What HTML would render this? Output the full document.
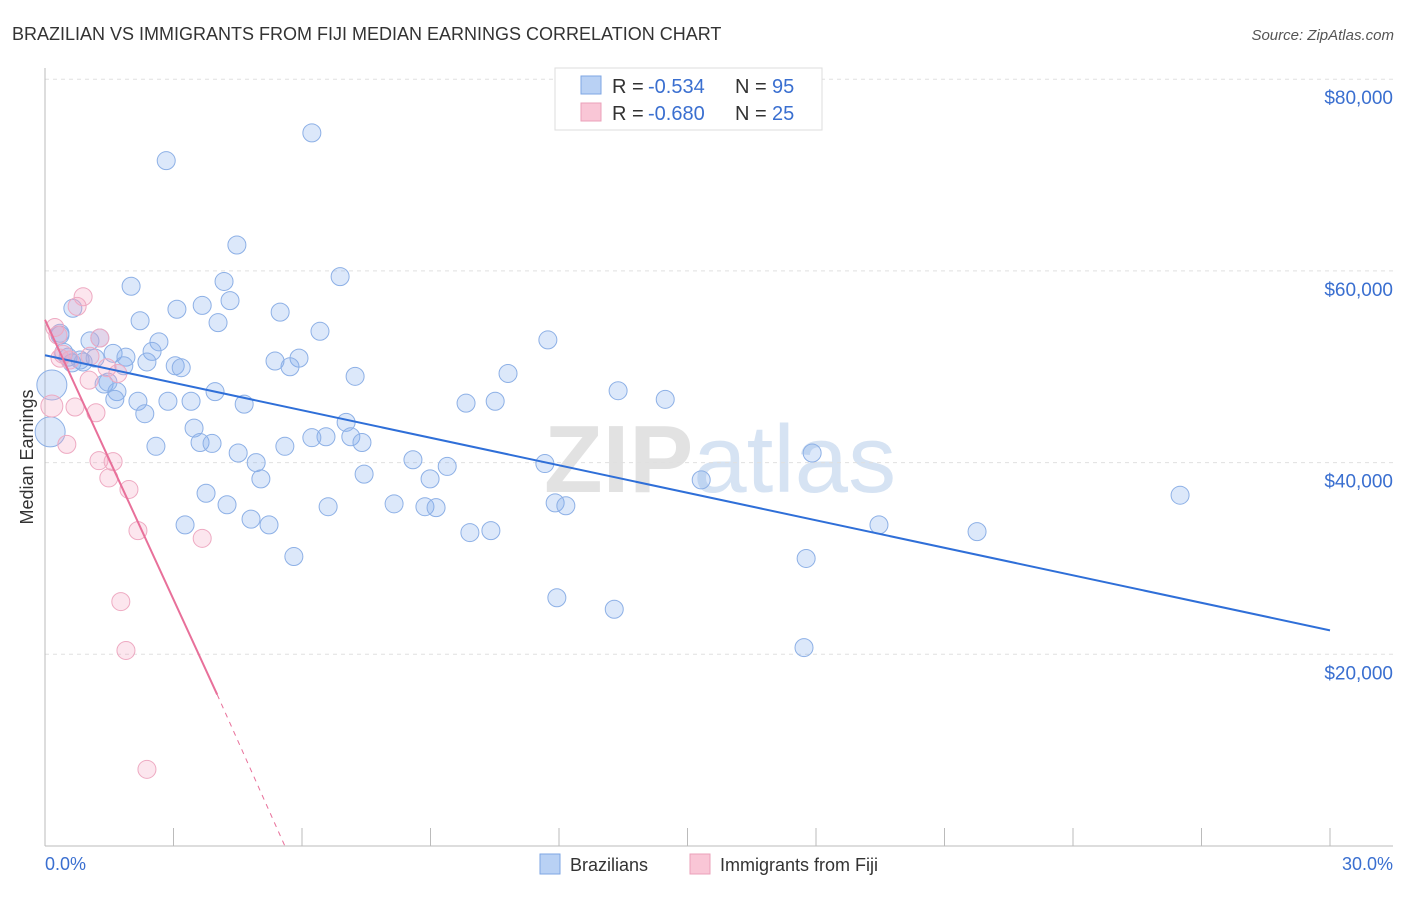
<!DOCTYPE html>
<html><head><meta charset="utf-8"><style>
body{margin:0;background:#fff;font-family:"Liberation Sans",sans-serif;}
svg text{font-family:"Liberation Sans",sans-serif;}
</style></head><body>
<svg id="chart" width="1406" height="892" xmlns="http://www.w3.org/2000/svg">
<text x="12" y="40" font-size="18" fill="#333">BRAZILIAN VS IMMIGRANTS FROM FIJI MEDIAN EARNINGS CORRELATION CHART</text>
<text x="1394" y="40" font-size="15" fill="#555" text-anchor="end" font-style="italic">Source: ZipAtlas.com</text>
<text x="720" y="492" font-size="96" fill="#e6e6ea" text-anchor="middle" font-family="Liberation Serif"><tspan font-weight="bold" fill="#e2e2e2">ZIP</tspan><tspan fill="#d6e3f3" font-family="Liberation Sans">atlas</tspan></text>
<text transform="translate(33,457) rotate(-90)" font-size="18" fill="#333" text-anchor="middle">Median Earnings</text>
<g id="grid"></g><g id="pts"></g><g id="lines"></g>
<g>
<rect x="555" y="68" width="267" height="62" fill="#fff" stroke="#ddd"/>
<rect x="581" y="76" width="20" height="18" fill="#b9d1f4" stroke="#7ea6e3"/>
<rect x="581" y="103" width="20" height="18" fill="#f9c6d6" stroke="#eba0ba"/>
<text x="612" y="93" font-size="20" fill="#333">R = </text><text x="648" y="93" font-size="20" fill="#3a6fd0">-0.534</text>
<text x="735" y="93" font-size="20" fill="#333">N = </text><text x="772" y="93" font-size="20" fill="#3a6fd0">95</text>
<text x="612" y="120" font-size="20" fill="#333">R = </text><text x="648" y="120" font-size="20" fill="#3a6fd0">-0.680</text>
<text x="735" y="120" font-size="20" fill="#333">N = </text><text x="772" y="120" font-size="20" fill="#3a6fd0">25</text>
</g>
<g>
<rect x="540" y="854" width="20" height="20" fill="#b9d1f4" stroke="#7ea6e3"/>
<text x="570" y="871" font-size="18" fill="#333">Brazilians</text>
<rect x="690" y="854" width="20" height="20" fill="#f9c6d6" stroke="#eba0ba"/>
<text x="720" y="871" font-size="18" fill="#333">Immigrants from Fiji</text>
</g>
<text x="45" y="870" font-size="18" fill="#3a6fd0">0.0%</text>
<text x="1393" y="870" font-size="18" fill="#3a6fd0" text-anchor="end">30.0%</text>
</svg>
<script>
const yTicks=[20000,40000,60000,80000];
const yTickLabels=["$20,000","$40,000","$60,000","$80,000"];
const xTicks=[0,3,6,9,12,15,18,21,24,27,30];
const blueX=[6.23,2.83,4.48,6.89,4.18,2.01,4.32,3.08,3.67,0.65,5.49,2.22,4.04,6.42,11.74,0.35,1.28,2.66,1.05,2.50,1.59,0.54,1.89,5.37,5.93,0.82,2.38,3.04,5.72,3.18,1.84,10.81,7.24,1.38,1.68,3.97,13.38,14.48,1.63,2.17,2.87,3.41,9.83,10.51,4.65,2.33,7.03,3.48,6.56,7.14,6.23,7.40,3.62,3.90,2.59,5.60,4.51,8.59,4.93,9.39,11.67,17.91,7.45,5.04,8.99,15.32,26.50,3.76,4.25,8.15,6.61,11.91,12.16,8.87,9.13,4.81,5.23,3.27,19.47,21.76,9.92,10.41,5.81,17.77,11.95,13.29,17.72,0.16,0.12,0.35,0.89,1.17,0.63,0.44,1.47];
const blueY=[74400,71500,62700,59400,58900,58400,56900,56000,56400,56100,55700,54800,54600,53700,52800,53300,53000,52600,52700,51600,51400,51000,51000,50600,50900,50700,50500,50100,50000,49900,50100,49300,49000,48200,47400,47400,47500,46600,46600,46400,46400,46400,46200,46400,46100,45100,44200,43600,42700,42700,42600,42100,42100,42000,41700,41700,41000,40300,40000,39600,39900,41000,38800,38300,38300,38200,36600,36800,35600,35700,35400,35800,35500,35400,35300,34100,33500,33500,33500,32800,32700,32900,30200,30000,25900,24700,20700,48100,43200,53500,50500,50900,50400,51500,48400];
const pinkX=[0.89,0.75,0.23,1.28,0.30,0.42,0.58,1.05,1.45,1.70,1.03,0.16,0.70,1.19,0.51,1.26,1.59,1.49,1.96,2.17,3.67,1.77,1.89,2.38,0.35];
const pinkY=[57300,56300,54100,53000,53300,51300,50700,51100,49900,49300,48600,45900,45800,45200,41900,40200,40100,38400,37200,32900,32100,25500,20400,8000,50900];
const blueTrend=[[0,51200],[30,22500]];
const pinkTrend=[[0,54900],[4.02,15800]];
const pinkTrendDash=[[4.02,15800],[5.6,0]];
const X=v=>45+v/30*1285, Y=v=>846-v/20000*191.7;
const NS="http://www.w3.org/2000/svg";
function mk(tag,attrs,parent){const e=document.createElementNS(NS,tag);for(const k in attrs)e.setAttribute(k,attrs[k]);document.getElementById(parent).appendChild(e);return e;}
yTicks.forEach((t,i)=>{
 const g=mk('line',{x1:45,x2:1393,y1:Y(t),y2:Y(t),stroke:'#e0e0e0','stroke-dasharray':'4,4'},'grid');
 
 
 const tx=mk('text',{x:1393,y:Y(t)+25,'font-size':19,fill:'#3a6fd0','text-anchor':'end'},'grid');
 tx.textContent=yTickLabels[i];
 
 
});
const ax=mk('line',{x1:45,x2:1393,y1:846,y2:846,stroke:'#bbb'},'grid');


const ay=mk('line',{x1:45,x2:45,y1:68,y2:846,stroke:'#bbb'},'grid');


xTicks.forEach(t=>{
 const l=mk('line',{x1:X(t),x2:X(t),y1:828,y2:846,stroke:'#bbb'},'grid');
 
 
});
blueX.forEach((x,i)=>{
 const c=mk('circle',{cx:X(x),cy:Y(blueY[i]),r:(i===87||i===88)?15:9,fill:'rgba(130,172,238,0.28)',stroke:'#8db0e6','stroke-width':1},'pts');
 
 
});
pinkX.forEach((x,i)=>{
 const c=mk('circle',{cx:X(x),cy:Y(pinkY[i]),r:i===11?11:9,fill:'rgba(245,165,195,0.28)',stroke:'#eeaac2','stroke-width':1},'pts');
 
 
});
const bl=mk('line',{x1:X(blueTrend[0][0]),y1:Y(blueTrend[0][1]),x2:X(blueTrend[1][0]),y2:Y(blueTrend[1][1]),stroke:'#2f6fd8','stroke-width':2},'lines');


const pl=mk('line',{x1:X(pinkTrend[0][0]),y1:Y(pinkTrend[0][1]),x2:X(pinkTrend[1][0]),y2:Y(pinkTrend[1][1]),stroke:'#e8709a','stroke-width':2},'lines');


const pd=mk('line',{x1:X(pinkTrendDash[0][0]),y1:Y(pinkTrendDash[0][1]),x2:X(pinkTrendDash[1][0]),y2:Y(pinkTrendDash[1][1]),stroke:'#e8709a','stroke-width':1,'stroke-dasharray':'5,5'},'lines');


</script>
</body></html>
